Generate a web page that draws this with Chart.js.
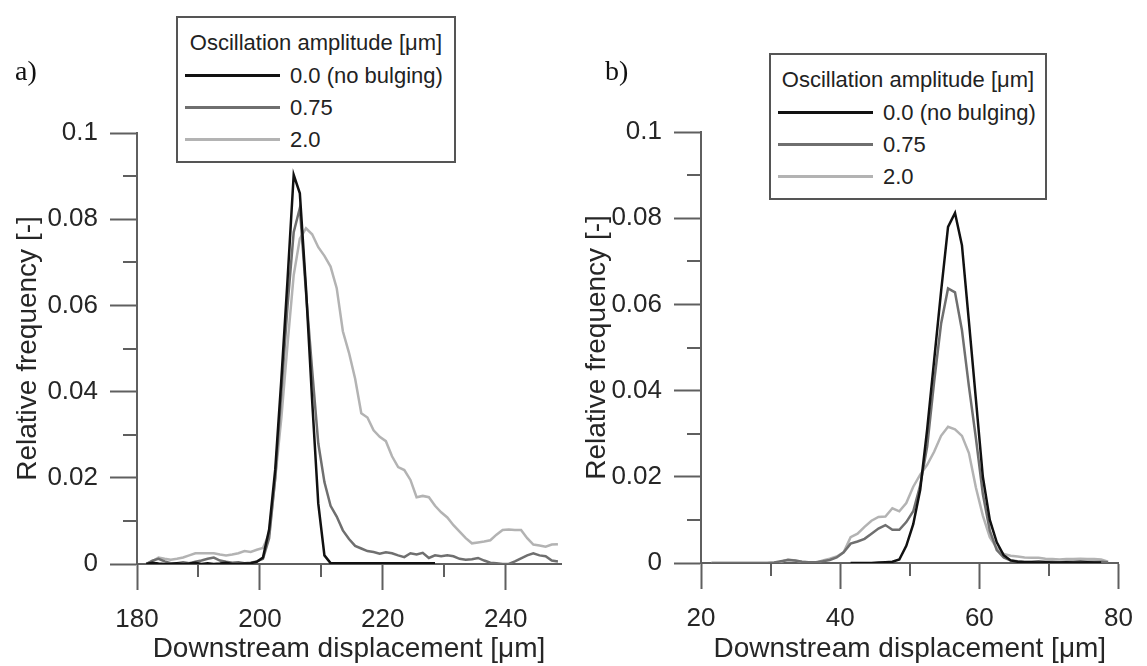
<!DOCTYPE html>
<html>
<head>
<meta charset="utf-8">
<script src="https://cdn.jsdelivr.net/npm/chart.js@4.4.1/dist/chart.umd.min.js"></script>
<style>
  body { margin: 0; background: #fff; width: 1147px; height: 666px; position: relative; overflow: hidden;
         font-family: 'Liberation Sans', Arial, sans-serif; }
  canvas { position: absolute; top: 0; }
  .panel-label { position: absolute; font-family: 'Liberation Serif', 'Times New Roman', serif;
                 font-size: 28px; line-height: 28px; color: #111; }
  .legend { position: absolute; box-sizing: border-box; border: 2px solid #555; background: #fff;
            color: #222; font-size: 22px; }
  .legend .title { position: absolute; left: 0; right: 0; text-align: center; height: 26px; line-height: 26px; white-space: nowrap; }
  .legend .row { position: absolute; left: 0; right: 0; height: 26px; line-height: 26px; white-space: nowrap; }
  .legend .swatch { position: absolute; left: 7px; width: 95px; top: 12px; height: 3px; }
  .legend .text { position: absolute; left: 112px; top: 1px; }
</style>
</head>
<body>
<canvas id="chartA" width="564" height="666" style="left:0px"></canvas>
<canvas id="chartB" width="583" height="666" style="left:564px"></canvas>
<div class="panel-label" style="left:15px; top:57px">a)</div>
<div class="panel-label" style="left:605px; top:57px">b)</div>

<script>
// series shared by both panels
const seriesNames = ['0.0 (no bulging)', '0.75', '2.0'];
const seriesColors = ['#111111', '#6f6f6f', '#b3b3b3'];
const legendTitle = 'Oscillation amplitude [\u03bcm]';

// panel a) - downstream displacement bins [um]
const xA = [181.5, 182.5, 183.5, 184.5, 185.5, 186.5, 187.5, 188.5, 189.5, 190.5,
  191.5, 192.5, 193.5, 194.5, 195.5, 196.5, 197.5, 198.5, 199.5, 200.5,
  201.5, 202.5, 203.5, 204.5, 205.5, 206.5, 207.5, 208.5, 209.5, 210.5,
  211.5, 212.5, 213.5, 214.5, 215.5, 216.5, 217.5, 218.5, 219.5, 220.5,
  221.5, 222.5, 223.5, 224.5, 225.5, 226.5, 227.5, 228.5, 229.5, 230.5,
  231.5, 232.5, 233.5, 234.5, 235.5, 236.5, 237.5, 238.5, 239.5, 240.5,
  241.5, 242.5, 243.5, 244.5, 245.5, 246.5, 247.5, 248.5];
const a0 = [0, 0.0003, 0.0001, 0, 0, 0.0002, 0, 0.0001, 0.0003, 0,
  0.0002, 0, 0.0001, 0.0003, 0, 0, 0.0001, 0.0002, 0.0005, 0.0015,
  0.008, 0.022, 0.043, 0.066, 0.0903, 0.086, 0.064, 0.038, 0.014, 0.002,
  0.0002, 0.0002, 0.0002, 0.0002, 0.0002, 0.0002, 0.0002, 0.0002, 0.0002, 0.0002,
  0.0002, 0.0002, 0.0002, 0.0002, 0.0002, 0.0002, 0.0002, 0.0002, null, null,
  null, null, null, null, null, null, null, null, null, null,
  null, null, null, null, null, null, null, null];
const a075 = [0, 0.0008, 0.0012, 0.0006, 0.0002, 0.0002, 0.0004, 0.0002, 0.0005, 0.0008,
  0.0012, 0.0015, 0.0008, 0.0005, 0.0003, 0.0004, 0.0002, 0.0003, 0.0006, 0.0012,
  0.006, 0.02, 0.04, 0.06, 0.077, 0.0826, 0.063, 0.045, 0.028, 0.019,
  0.0135, 0.011, 0.0078, 0.0058, 0.0042, 0.0036, 0.003, 0.0028, 0.0024, 0.0027,
  0.0025, 0.002, 0.0016, 0.0025, 0.0022, 0.0026, 0.0014, 0.002, 0.0018, 0.002,
  0.0018, 0.0012, 0.001, 0.0011, 0.0014, 0.0008, 0.0003, 0.0002, 0, 0,
  0.0006, 0.0013, 0.002, 0.0025, 0.002, 0.0018, 0.0008, 0.0006];
const a20 = [0, 0.0006, 0.0015, 0.0012, 0.001, 0.0012, 0.0015, 0.002, 0.0025, 0.0025,
  0.0025, 0.0025, 0.0022, 0.002, 0.0022, 0.0025, 0.003, 0.0028, 0.0033, 0.0037,
  0.007, 0.02, 0.034, 0.051, 0.067, 0.0755, 0.0779, 0.0765, 0.0735, 0.0715,
  0.069, 0.064, 0.054, 0.049, 0.043, 0.035, 0.034, 0.031, 0.0295, 0.0285,
  0.025, 0.0225, 0.0218, 0.0195, 0.0155, 0.0158, 0.0155, 0.0135, 0.012, 0.0108,
  0.009, 0.0075, 0.006, 0.0048, 0.005, 0.0052, 0.0055, 0.0068, 0.0079, 0.008,
  0.0079, 0.0079, 0.006, 0.0045, 0.0043, 0.004, 0.0045, 0.0046];
const xTicksA = [180, 200, 220, 240];
const xMinorA = [190, 210, 230];

// panel b)
const xB = [21.5, 22.5, 23.5, 24.5, 25.5, 26.5, 27.5, 28.5, 29.5, 30.5,
  31.5, 32.5, 33.5, 34.5, 35.5, 36.5, 37.5, 38.5, 39.5, 40.5,
  41.5, 42.5, 43.5, 44.5, 45.5, 46.5, 47.5, 48.5, 49.5, 50.5,
  51.5, 52.5, 53.5, 54.5, 55.5, 56.5, 57.5, 58.5, 59.5, 60.5,
  61.5, 62.5, 63.5, 64.5, 65.5, 66.5, 67.5, 68.5, 69.5, 70.5,
  71.5, 72.5, 73.5, 74.5, 75.5, 76.5, 77.5, 78.5];
const b0 = [null, null, null, null, null, null, null, null, null, null,
  null, null, null, null, null, null, null, null, null, null,
  0, 0, 0, 0, 0.0001, 0.0002, 0.0003, 0.0008, 0.004, 0.009,
  0.017, 0.031, 0.047, 0.063, 0.078, 0.0812, 0.0737, 0.056, 0.038, 0.02,
  0.01, 0.0048, 0.0018, 0.0006, 0.0003, 0.0002, 0.0002, 0.0001, 0.0002, 0.0001,
  0.0001, 0.0002, 0.0001, 0.0001, 0.0002, 0.0001, 0.0001, null];
const b075 = [0, 0, 0, 0, 0, 0, 0, 0, 0, 0.0001,
  0.0004, 0.0007, 0.0006, 0.0003, 0.0002, 0.0002, 0.0004, 0.0007, 0.0013, 0.0025,
  0.0045, 0.005, 0.0056, 0.0068, 0.008, 0.0088, 0.0077, 0.0077, 0.0095, 0.012,
  0.018, 0.027, 0.042, 0.0555, 0.0637, 0.0628, 0.054, 0.041, 0.029, 0.016,
  0.0075, 0.003, 0.0013, 0.0006, 0.0004, 0.0003, 0.0003, 0.0004, 0.0003, 0.0003,
  0.0002, 0.0003, 0.0003, 0.0004, 0.0003, 0.0003, 0.0003, 0.0002];
const b20 = [0, 0, 0, 0, 0, 0, 0, 0, 0, 0,
  0.0003, 0.0008, 0.0006, 0.0003, 0.0001, 0, 0.0006, 0.001, 0.0015, 0.0025,
  0.006, 0.0068, 0.0084, 0.0098, 0.0107, 0.0108, 0.0127, 0.012, 0.0139, 0.0177,
  0.0205, 0.0228, 0.0258, 0.0295, 0.0316, 0.031, 0.0295, 0.0255, 0.0175, 0.011,
  0.006, 0.0035, 0.0021, 0.0017, 0.0015, 0.0013, 0.0012, 0.0012, 0.001, 0.0009,
  0.0008, 0.0009, 0.0009, 0.001, 0.0009, 0.0009, 0.0008, 0.0003];
const xTicksB = [20, 40, 60, 80];
const xMinorB = [30, 50, 70];

// y axis (same for both)
const yTicks = [0, 0.02, 0.04, 0.06, 0.08, 0.1];
const yMinor = [0.01, 0.03, 0.05, 0.07, 0.09];

const axisColor = '#5f5f5f';
const textColor = '#262626';
const fontFamily = "'Liberation Sans', Arial, sans-serif";

// half-length ticks between the labelled ones
const minorTicks = {
  id: 'minorTicks',
  afterDraw(chart, args, opts) {
    const { ctx, scales: { x, y } } = chart;
    ctx.save();
    ctx.strokeStyle = axisColor;
    ctx.lineWidth = 2;
    ctx.beginPath();
    opts.xValues.forEach(v => {
      const px = Math.round(x.getPixelForValue(v));
      ctx.moveTo(px, y.bottom);
      ctx.lineTo(px, y.bottom + 13);
    });
    opts.yValues.forEach(v => {
      const py = Math.round(y.getPixelForValue(v));
      ctx.moveTo(x.left - 14, py);
      ctx.lineTo(x.left, py);
    });
    ctx.stroke();
    ctx.restore();
  }
};

function makeChart(id, xs, ys, xMin, xMax, xTicks, xMinor, pad) {
  const datasets = ys.map((vals, i) => ({
    label: seriesNames[i],
    data: vals.map((v, j) => ({ x: xs[j], y: v })),
    borderColor: seriesColors[i],
    borderWidth: 2.5,
    pointRadius: 0,
    tension: 0,
    spanGaps: false
  }));

  return new Chart(document.getElementById(id), {
    type: 'line',
    data: { datasets },
    plugins: [minorTicks],
    options: {
      responsive: false,
      animation: false,
      devicePixelRatio: 1,
      layout: { padding: { top: pad.top, right: pad.right, bottom: 0, left: 0 } },
      plugins: {
        legend: { display: false },
        tooltip: { enabled: false },
        minorTicks: { xValues: xMinor, yValues: yMinor }
      },
      scales: {
        x: {
          type: 'linear',
          min: xMin,
          max: xMax,
          afterBuildTicks: scale => { scale.ticks = xTicks.map(v => ({ value: v })); },
          afterFit: scale => { scale.height = 666 - pad.bottomAxis; },
          border: { display: true, color: axisColor, width: 2 },
          grid: { drawOnChartArea: false, drawTicks: true, tickLength: 26, tickColor: axisColor, tickWidth: 2 },
          ticks: { color: textColor, padding: 14, font: { family: fontFamily, size: 26 }, maxRotation: 0,
                   callback: v => String(v) },
          title: { display: true, text: 'Downstream displacement [\u03bcm]', color: textColor,
                   font: { family: fontFamily, size: 28 }, padding: { top: 0, bottom: 0 } }
        },
        y: {
          type: 'linear',
          min: 0,
          max: 0.1,
          afterBuildTicks: scale => { scale.ticks = yTicks.map(v => ({ value: v })); },
          afterFit: scale => { scale.width = pad.leftAxis; },
          border: { display: true, color: axisColor, width: 2 },
          grid: { drawOnChartArea: false, drawTicks: true, tickLength: 27, tickColor: axisColor, tickWidth: 2 },
          ticks: { color: textColor, padding: 12, font: { family: fontFamily, size: 26 },
                   callback: v => String(v) },
          title: { display: true, text: 'Relative frequency [-]', color: textColor,
                   font: { family: fontFamily, size: 28 }, padding: { top: pad.titleGap, bottom: 0 } }
        }
      }
    }
  });
}

function buildLegend(left, top, width) {
  const box = document.createElement('div');
  box.className = 'legend';
  Object.assign(box.style, { left: left + 'px', top: top + 'px', width: width + 'px', height: '147px' });
  const title = document.createElement('div');
  title.className = 'title';
  title.style.top = '12px';
  title.textContent = legendTitle;
  box.appendChild(title);
  const rowCentres = [57, 89, 121];
  seriesNames.forEach((name, i) => {
    const row = document.createElement('div');
    row.className = 'row';
    row.style.top = (rowCentres[i] - 13) + 'px';
    const sw = document.createElement('span');
    sw.className = 'swatch';
    sw.style.background = seriesColors[i];
    const tx = document.createElement('span');
    tx.className = 'text';
    tx.textContent = name;
    row.appendChild(sw);
    row.appendChild(tx);
    box.appendChild(row);
  });
  document.body.appendChild(box);
}

makeChart('chartA', xA, [a0, a075, a20], 180, 249, xTicksA, xMinorA,
  { top: 133, right: 3, leftAxis: 137, bottomAxis: 564, titleGap: 11 });
makeChart('chartB', xB, [b0, b075, b20], 20, 80, xTicksB, xMinorB,
  { top: 132, right: 15, leftAxis: 137, bottomAxis: 563, titleGap: 16 });

buildLegend(176, 16, 280);
buildLegend(769, 53, 278);
</script>
</body>
</html>
